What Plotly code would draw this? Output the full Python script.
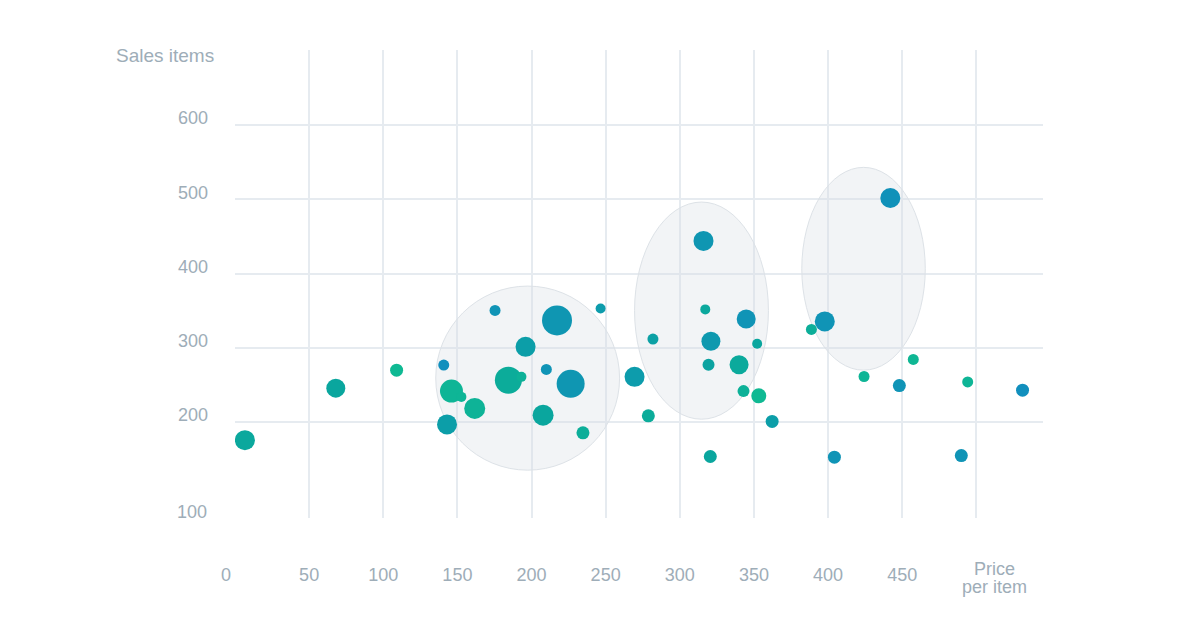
import plotly.graph_objects as go

# ---- data ----
price = [6.7, 68, 109, 140.8, 146, 152.7, 143, 161.7, 175.4, 184.4, 193.2, 196, 210,
         217.2, 226.4, 207.8, 234.7, 246.6, 269.5, 278.8, 281.9, 316, 317.2, 321,
         319.4, 320.6, 344.8, 352.2, 340, 343, 353.3, 362.3, 388.8, 397.8, 442,
         424.3, 457.5, 448.1, 494.2, 531.2, 404.3, 489.9]
sales = [175.8, 245.8, 270, 276.8, 241.8, 234, 197, 218.5, 350.4, 256.6, 261, 301.4, 271,
         337, 251.6, 209.4, 185.6, 353, 261, 208.5, 311.8, 444, 351.8, 309,
         277.2, 153.8, 339, 305.5, 277.2, 241.8, 235.4, 201, 324.8, 335.6, 501.7,
         261.5, 284.4, 249.3, 254.2, 243.1, 152.9, 155.1]
volume = [400, 361, 169, 121, 529, 100, 400, 441, 121, 729, 100, 400, 121,
          900, 784, 441, 169, 100, 400, 169, 121, 400, 100, 361,
          144, 169, 361, 100, 361, 144, 225, 169, 121, 400, 400,
          121, 121, 169, 121, 169, 169, 169]
margin = [0.45, 0.5, 0.05, 0.95, 0.15, 0.15, 0.65, 0.2, 0.85, 0.35, 0.25, 0.65, 0.85,
          0.8, 0.8, 0.5, 0.3, 0.7, 0.7, 0.35, 0.6, 0.8, 0.45, 0.75,
          0.55, 0.5, 0.85, 0.5, 0.4, 0.25, 0.05, 0.65, 0.3, 0.85, 0.9,
          0.15, 0.1, 0.85, 0.15, 0.95, 0.85, 0.85]

# cluster ellipses: (price_min, price_max, sales_min, sales_max)
clusters = [(135.4, 259.4, 135.4, 383.2),
            (269.5, 359.8, 204.0, 496.3),
            (382.3, 465.6, 270.0, 543.0)]

x_ticks = [50, 100, 150, 200, 250, 300, 350, 400, 450, 500]
x_labels = ["50", "100", "150", "200", "250", "300", "350", "400", "450", ""]
y_ticks = [200, 300, 400, 500, 600]
y_labels = ["200", "300", "400", "500", "600"]

TXT = "#9eadb8"
GRID = "#e6ebf0"
FONT = "Liberation Sans, Arial, sans-serif"

fig = go.Figure()
fig.add_trace(go.Scatter(
    x=price, y=sales, mode="markers",
    marker=dict(size=volume, sizemode="area", sizeref=2,
                color=margin, cmin=0, cmax=1,
                colorscale=[[0, "#10bb92"], [0.5, "#0aa69e"], [1, "#128cc0"]],
                line=dict(width=0), opacity=1),
    hoverinfo="x+y", showlegend=False))

for (x0, x1, y0, y1) in clusters:
    fig.add_shape(type="circle", xref="x", yref="y", x0=x0, x1=x1, y0=y0, y1=y1,
                  fillcolor="rgba(215,222,228,0.33)",
                  line=dict(color="#dde2e7", width=1), layer="between")

fig.update_xaxes(range=[0, 545], tickvals=x_ticks, ticktext=x_labels,
                 showgrid=True, gridcolor=GRID, gridwidth=1.5, zeroline=False,
                 showline=False, ticks="", ticklabelstandoff=44,
                 tickfont=dict(family=FONT, size=18, color=TXT))
fig.update_yaxes(range=[71, 701], tickvals=y_ticks, ticktext=y_labels,
                 showgrid=True, gridcolor=GRID, gridwidth=1.5, zeroline=False,
                 showline=False, ticks="", ticklabelstandoff=26, ticklabelshift=-7,
                 tickfont=dict(family=FONT, size=18, color=TXT))

ann_font = dict(family=FONT, size=18, color=TXT)
fig.add_annotation(text="Sales items", xref="paper", yref="paper", x=0, y=1,
                   xanchor="right", yanchor="middle", xshift=-19, yshift=-5,
                   showarrow=False, font=dict(family=FONT, size=19, color=TXT))
fig.add_annotation(text="100", xref="paper", yref="paper", x=0, y=0,
                   xanchor="right", yanchor="middle", xshift=-26, yshift=6,
                   showarrow=False, font=ann_font)
fig.add_annotation(text="0", xref="x", yref="paper", x=0, y=0,
                   xanchor="center", yanchor="middle", xshift=-9, yshift=-57,
                   showarrow=False, font=ann_font)
fig.add_annotation(text="Price", xref="x", yref="paper", x=500, y=0,
                   xanchor="center", yanchor="middle", xshift=18, yshift=-51,
                   showarrow=False, font=ann_font)
fig.add_annotation(text="per item", xref="x", yref="paper", x=500, y=0,
                   xanchor="center", yanchor="middle", xshift=18, yshift=-69,
                   showarrow=False, font=ann_font)

fig.update_layout(width=1200, height=630,
                  margin=dict(l=235, r=157, t=50, b=112),
                  paper_bgcolor="white", plot_bgcolor="white")

fig.write_html("out.html")
